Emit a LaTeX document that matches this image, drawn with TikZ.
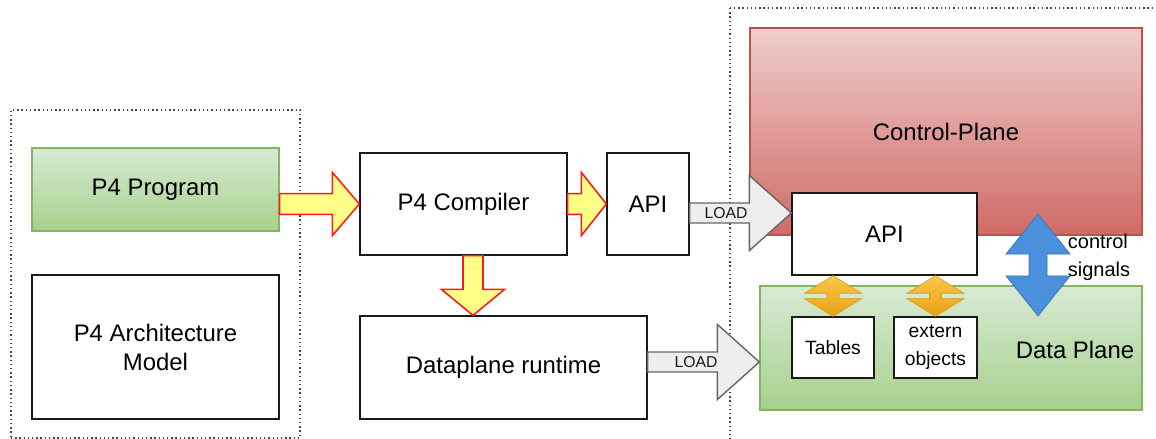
\documentclass[tikz,border=0pt]{standalone}
\usepackage{fontspec}
\setmainfont{Liberation Sans}
\usepackage{xcolor}
\usepackage{tikz}
\usetikzlibrary{calc}
\definecolor{progGreenTop}{HTML}{D7EAD4}
\definecolor{progGreenBot}{HTML}{A7D08C}
\definecolor{progGreenLine}{HTML}{82B366}
\definecolor{ctrlRedTop}{HTML}{EFCDCC}
\definecolor{ctrlRedBot}{HTML}{D06A66}
\definecolor{ctrlRedLine}{HTML}{B85450}
\definecolor{compYellow}{HTML}{FFFF88}
\definecolor{compRed}{HTML}{FF1A1A}
\definecolor{loadGrey}{HTML}{EEEEEE}
\definecolor{loadLine}{HTML}{666666}
\definecolor{apiOrangeTop}{HTML}{F8C84A}
\definecolor{apiOrangeBot}{HTML}{E9A015}
\definecolor{apiOrangeLine}{HTML}{D79B00}
\definecolor{sigBlue}{HTML}{4A90DC}
\definecolor{sigBlueLine}{HTML}{3A72B4}
\definecolor{ink}{HTML}{1A1A1A}

% fat block arrow: style, from, to, shaft half width, head half width, head length
\newcommand{\fatarrow}[6]{%
  \path (#2) coordinate (fa s) (#3) coordinate (fa t);
  \path ($(fa t)!#6!(fa s)$) coordinate (fa h);
  \draw[#1] ($(fa s)!#4!90:(fa t)$) -- ($(fa h)!#4!-90:(fa s)$) -- ($(fa h)!#5!-90:(fa s)$) -- (fa t)
    -- ($(fa h)!#5!90:(fa s)$) -- ($(fa h)!#4!90:(fa s)$) -- ($(fa s)!#4!-90:(fa t)$) -- cycle;
}
% same, with a head at both ends
\newcommand{\dblarrow}[6]{%
  \path (#2) coordinate (fa s) (#3) coordinate (fa t);
  \path ($(fa t)!#6!(fa s)$) coordinate (fa h) ($(fa s)!#6!(fa t)$) coordinate (fa g);
  \draw[#1] (fa s) -- ($(fa g)!#5!90:(fa t)$) -- ($(fa g)!#4!90:(fa t)$) -- ($(fa h)!#4!-90:(fa s)$)
    -- ($(fa h)!#5!-90:(fa s)$) -- (fa t) -- ($(fa h)!#5!90:(fa s)$) -- ($(fa h)!#4!90:(fa s)$)
    -- ($(fa g)!#4!-90:(fa t)$) -- ($(fa g)!#5!-90:(fa t)$) -- cycle;
}

\begin{document}
\begin{tikzpicture}[x=0.025cm,y=-0.025cm,
  font=\fontsize{17}{20}\selectfont,
  box/.style={draw=ink,line width=0.9pt,fill=white,inner sep=0pt,align=center},
  groupbox/.style={draw=ink!80,dotted,line width=1pt,inner sep=0pt},
  yarrow/.style={fill=compYellow,draw=compRed,line width=1.1pt,line join=miter},
  loadarrow/.style={fill=loadGrey,draw=loadLine,line width=1pt},
  oarrow/.style={top color=apiOrangeTop,bottom color=apiOrangeBot,draw=apiOrangeLine,line width=0.4pt},
  barrow/.style={fill=sigBlue,draw=sigBlueLine,line width=0.5pt},
  loadtxt/.style={font=\fontsize{11.2}{13}\selectfont,text=ink},
  smalltxt/.style={font=\fontsize{13.7}{19.8}\selectfont}]
\clip (0,0) rectangle (1156,439);
\node[groupbox,minimum width=7.225cm,minimum height=8.2cm] (devbox) at (155.5,274) {};
\draw[groupbox] (730,8) rectangle (1175,460);
% program side
\node[box,draw=progGreenLine,top color=progGreenTop,bottom color=progGreenBot,minimum width=6.175cm,minimum height=2.075cm] (prog) at (155.5,189.5) {P4 Program};
\node[box,minimum width=6.175cm,minimum height=3.6cm,font=\fontsize{17}{20.6}\selectfont] (arch) at (155.5,347) {P4 Architecture\\Model};
\node[box,minimum width=5.175cm,minimum height=2.55cm] (comp) at (463.5,204) {P4 Compiler};
\node[box,minimum width=2.05cm,minimum height=2.55cm] (api1) at (648,204) {API};
\node[box,minimum width=7.175cm,minimum height=2.575cm] (rt) at (503.5,367.5) {Dataplane runtime};
% target side
\node[box,draw=ctrlRedLine,top color=ctrlRedTop,bottom color=ctrlRedBot,minimum width=9.8cm,minimum height=5.175cm] (ctrl) at (946,131.5) {Control-Plane};
\node[box,draw=progGreenLine,top color=progGreenTop,bottom color=progGreenBot,minimum width=9.55cm,minimum height=3.1cm] (data) at (951,348) {};
\node (dplabel) at (1075,350) {Data Plane};
\node[box,minimum width=4.625cm,minimum height=2.05cm] (api2) at (884.5,234) {API};
\node[box,smalltxt,minimum width=2.05cm,minimum height=1.525cm] (tabs) at (833,347.5) {Tables};
\node[box,smalltxt,minimum width=2.075cm,minimum height=1.525cm] (ext) at (935.5,347.5) {extern\\objects};
% compile flow
\fatarrow{yarrow}{prog.east |- comp.west}{comp.west}{0.26cm}{0.79cm}{0.675cm}
\fatarrow{yarrow}{comp.east}{api1.west}{0.26cm}{0.79cm}{0.625cm}
\coordinate (dn) at ([xshift=0.2375cm]comp.south);
\fatarrow{yarrow}{dn}{dn |- rt.north}{0.25cm}{0.79cm}{0.65cm}
% loading
\coordinate (ld1) at ([yshift=-0.225cm]api1.east);
\fatarrow{loadarrow}{ld1}{ld1 -| api2.west}{0.25cm}{0.94cm}{1.05cm}
\node[loadtxt] (ld1txt) at (726,213) {LOAD};
\coordinate (ld2) at ([yshift=0.1375cm]rt.east);
\fatarrow{loadarrow}{ld2}{ld2 -| data.west}{0.25cm}{0.94cm}{1.05cm}
\node[loadtxt] (ld2txt) at (696,362) {LOAD};
% api to tables / externs
\dblarrow{oarrow}{api2.south -| tabs.north}{tabs.north}{0.15cm}{0.71cm}{0.44cm}
\dblarrow{oarrow}{api2.south -| ext.north}{ext.north}{0.15cm}{0.71cm}{0.44cm}
% control signals
\coordinate (sigtop) at (1038,214);
\coordinate (sigbot) at (1038,316);
\dblarrow{barrow}{sigtop}{sigbot}{0.225cm}{0.8cm}{1cm}
\node[font=\fontsize{14.2}{19.9}\selectfont,align=left] (sigtxt) at (1099,257) {control\\signals};
\end{tikzpicture}
\end{document}
